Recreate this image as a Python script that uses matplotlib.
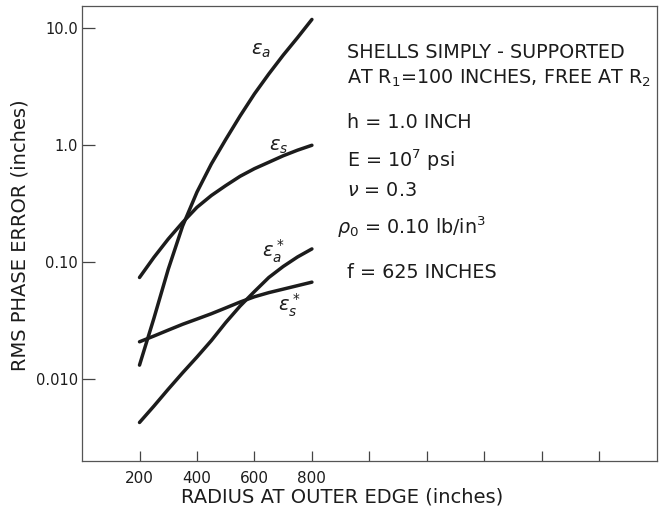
import numpy as np
import matplotlib
matplotlib.use("Agg")
import matplotlib.pyplot as plt

plt.rcParams['font.family'] = ['DejaVu Sans']
plt.rcParams['mathtext.fontset'] = 'dejavusans'

# radius at outer edge (inches)
radius = [200, 250, 300, 350, 400, 450, 500, 550, 600, 650, 700, 750, 800]

# rms phase error (inches) for each case
eps_a = [0.0132, 0.0331, 0.0871, 0.204, 0.398, 0.692, 1.12, 1.78, 2.75,
         4.07, 5.89, 8.32, 11.9]
eps_s = [0.0741, 0.110, 0.158, 0.219, 0.295, 0.372, 0.452, 0.543, 0.631,
         0.716, 0.813, 0.908, 1.0]
eps_a_star = [0.00427, 0.00589, 0.00822, 0.01135, 0.01549, 0.0214, 0.0305,
              0.0422, 0.0562, 0.0741, 0.0920, 0.111, 0.130]
eps_s_star = [0.0209, 0.0234, 0.0263, 0.0295, 0.0327, 0.0363, 0.0407,
              0.0457, 0.0507, 0.0550, 0.0589, 0.0631, 0.0676]

xticks = [200, 400, 600, 800, 1000, 1200, 1400, 1600, 1800]
xticklabels = ['200', '400', '600', '800', '', '', '', '', '']
yticks = [0.01, 0.1, 1.0, 10.0]
yticklabels = ['0.010', '0.10', '1.0', '10.0']

ink = '#1c1c1c'

fig = plt.figure(figsize=(6.59, 5.12), dpi=100)
ax = fig.add_axes([0.1245, 0.0996, 0.872, 0.888])

for ys in (eps_a, eps_s, eps_a_star, eps_s_star):
    ax.plot(radius, ys, color=ink, lw=2.5, solid_capstyle='round')

ax.set_yscale('log')
ax.set_xlim(0, 2000)
ax.set_ylim(0.0020, 15.4)

ax.set_xticks(xticks)
ax.set_xticklabels(xticklabels)
ax.set_yticks(yticks)
ax.set_yticklabels(yticklabels)
ax.yaxis.set_minor_locator(matplotlib.ticker.NullLocator())
ax.tick_params(axis='x', direction='in', length=7, width=0.9, colors='#444',
               labelcolor=ink, labelsize=11, pad=7)
ax.tick_params(axis='y', direction='in', length=9, width=0.9, colors='#444',
               labelcolor=ink, labelsize=10.5, pad=3)
for sp in ax.spines.values():
    sp.set_color('#555')
    sp.set_linewidth(0.9)

# curve labels
ax.text(624, 6.5, r'$\epsilon_a$', fontsize=14, color=ink, ha='center', va='center')
ax.text(683, 0.98, r'$\epsilon_s$', fontsize=14, color=ink, ha='center', va='center')
ax.text(665, 0.125, r'$\epsilon_a^*$', fontsize=14, color=ink, ha='center', va='center')
ax.text(720, 0.043, r'$\epsilon_s^*$', fontsize=14, color=ink, ha='center', va='center')

# case description
W, H = 659.0, 512.0
notes = [
    (347, 53, 'SHELLS SIMPLY - SUPPORTED'),
    (347, 78, r'AT R$_1$=100 INCHES, FREE AT R$_2$'),
    (347, 122, 'h = 1.0 INCH'),
    (347, 160, r'E = 10$^7$ psi'),
    (347, 190, r'$\nu$ = 0.3'),
    (337, 227, r'$\rho_0$ = 0.10 lb/in$^3$'),
    (347, 272, 'f = 625 INCHES'),
]
for px, py, s in notes:
    fig.text(px / W, 1 - py / H, s, fontsize=13.8, color=ink, ha='left', va='center')

fig.text(20 / W, 1 - 235 / H, 'RMS PHASE ERROR (inches)', rotation=90,
         fontsize=14, color=ink, ha='center', va='center')
fig.text(342 / W, 1 - 497 / H, 'RADIUS AT OUTER EDGE (inches)',
         fontsize=14, color=ink, ha='center', va='center')

fig.savefig('out.png', dpi=100)
